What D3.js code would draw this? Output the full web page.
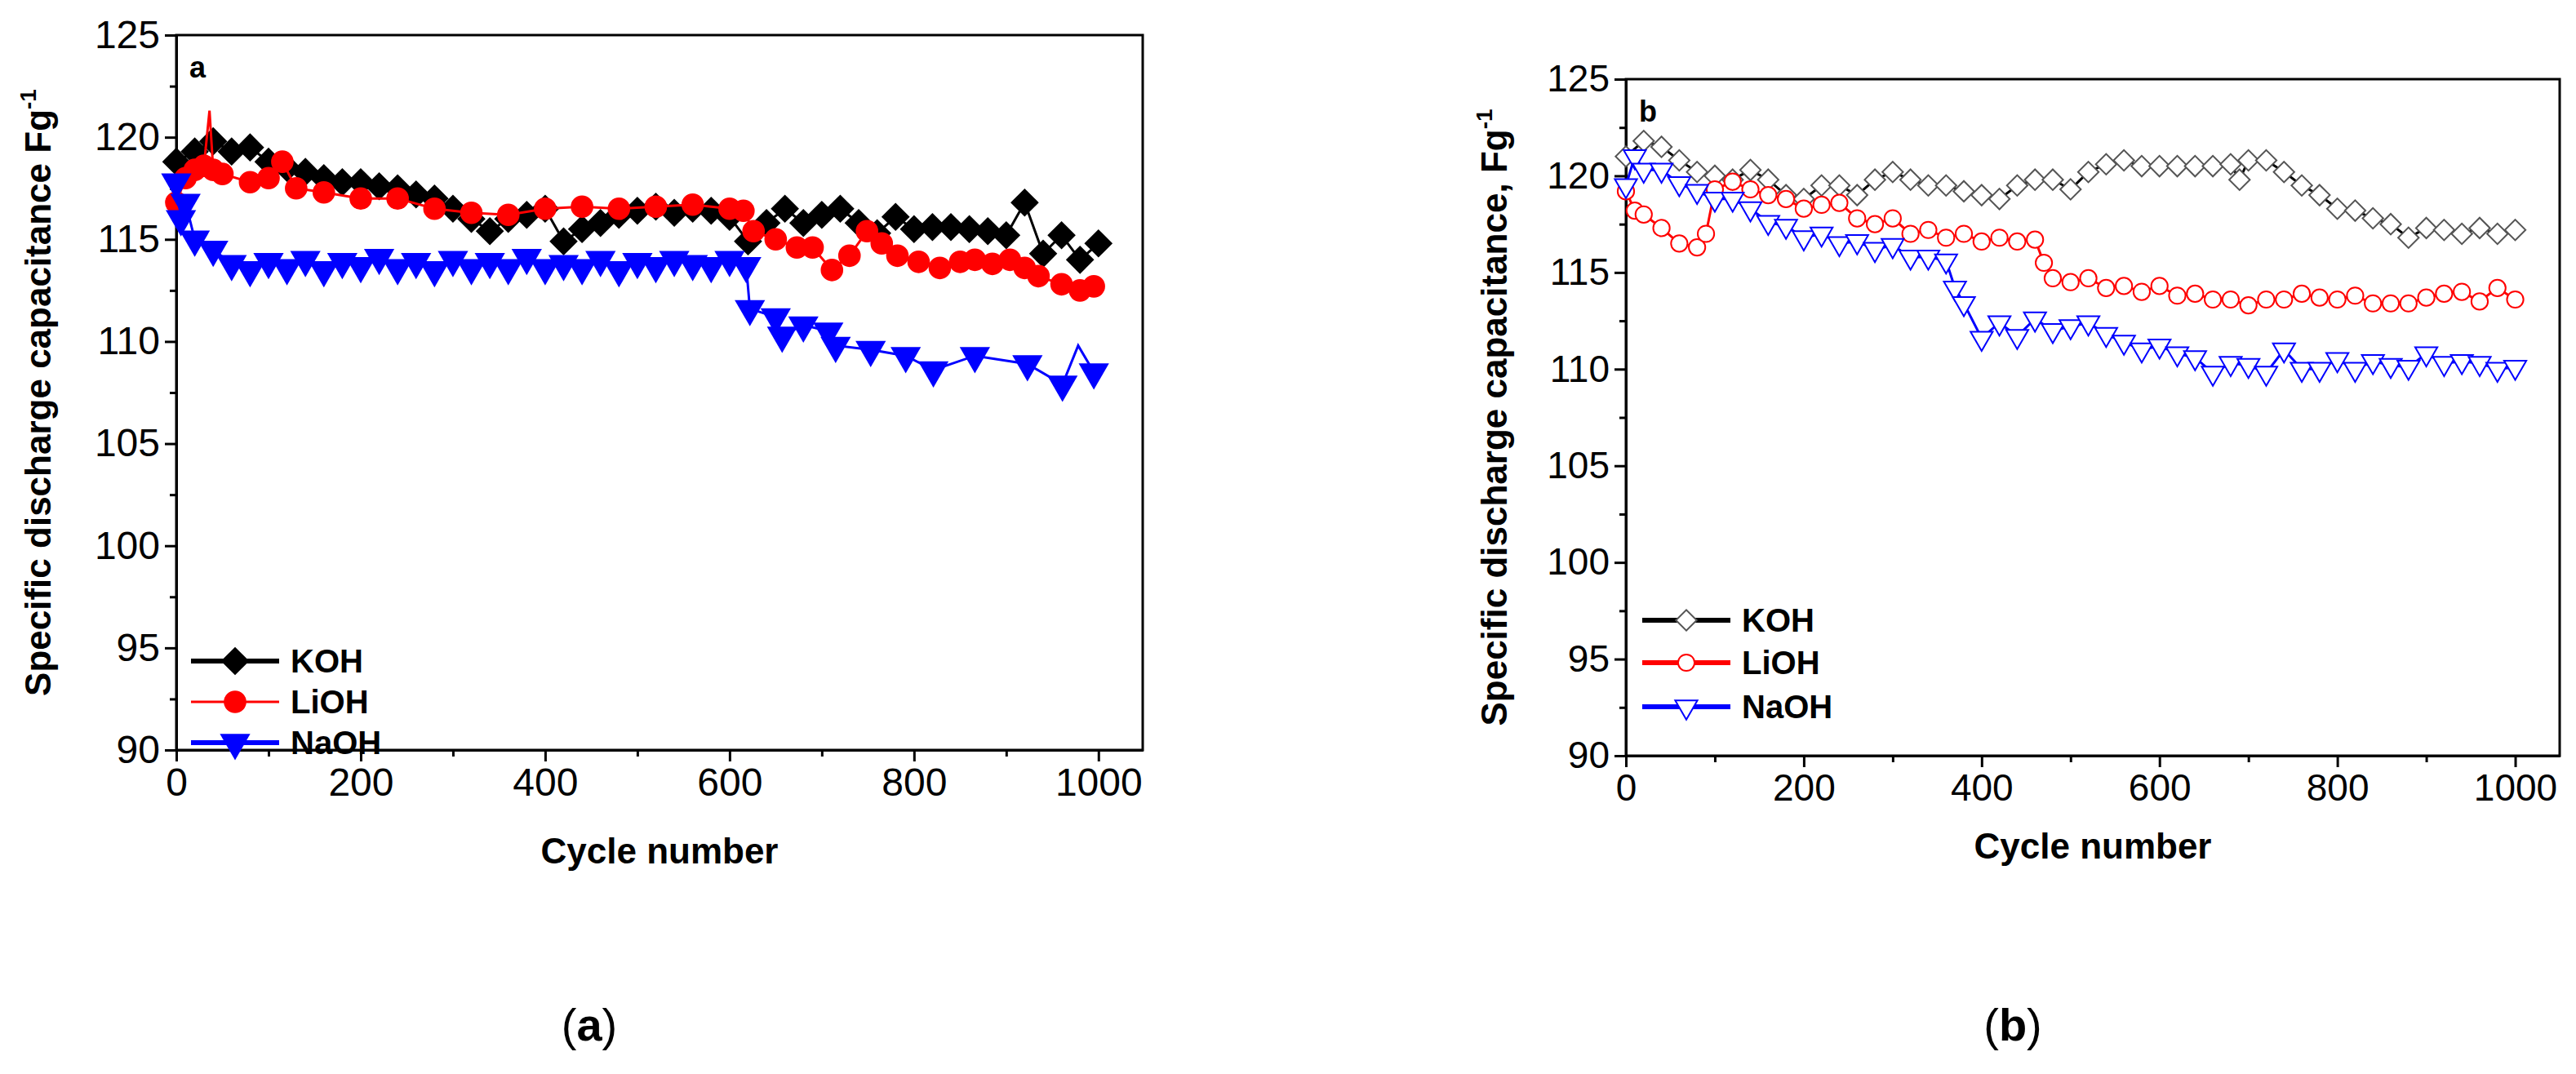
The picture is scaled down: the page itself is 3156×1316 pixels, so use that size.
<!DOCTYPE html>
<html>
<head>
<meta charset="utf-8">
<script src="https://cdn.jsdelivr.net/npm/d3@7"></script>
<style>
  body { margin: 0; background: #fff; }
  text { font-family: "Liberation Sans", Arial, sans-serif; }
</style>
</head>
<body>
<svg id="chart" width="3156" height="1316"></svg>
<script>
// ---- panel a data ----
const aKohCycles = [0,20,40,60,80,100,120,140,160,180,200,220,240,260,280,300,320,340,360,380,400,420,440,460,480,500,520,540,560,580,600,620,640,660,680,700,720,740,760,780,800,820,840,860,880,900,920,940,960,980,1000];
const aKohValues = [118.8,119.3,119.8,119.3,119.5,118.8,118.5,118.3,118.0,117.8,117.8,117.6,117.5,117.2,117.0,116.5,116.0,115.4,116.0,116.2,116.5,114.9,115.5,115.8,116.2,116.4,116.6,116.3,116.5,116.4,116.1,114.9,115.8,116.5,115.8,116.2,116.5,115.8,115.3,116.1,115.5,115.6,115.6,115.5,115.4,115.2,116.8,114.3,115.2,114.0,114.8];
const aLiohCycles = [0,10,20,30,36,40,50,80,100,115,130,160,200,240,280,320,360,400,440,480,520,560,600,615,626,650,673,690,711,730,749,765,782,805,828,850,866,885,904,920,935,960,980,995];
const aLiohValues = [116.8,118.0,118.4,118.6,121.3,118.4,118.2,117.8,118.0,118.8,117.5,117.3,117.0,117.0,116.5,116.3,116.2,116.5,116.6,116.5,116.6,116.7,116.5,116.4,115.4,115.0,114.6,114.6,113.5,114.2,115.4,114.8,114.2,113.9,113.6,113.9,114.0,113.8,114.0,113.6,113.2,112.8,112.5,112.7];
const aNaohCycles = [0,5,10,20,40,60,80,100,120,140,160,180,200,220,240,260,280,300,320,340,360,380,400,420,440,460,480,500,520,540,560,580,600,618,622,650,657,680,707,715,753,791,821,866,923,961,978,995];
const aNaohValues = [117.8,116.0,116.8,115.0,114.5,113.8,113.5,113.9,113.6,114.0,113.5,113.9,113.7,114.1,113.6,113.9,113.5,114.0,113.6,113.9,113.6,114.1,113.6,113.8,113.6,114.0,113.5,113.9,113.7,114.0,113.8,113.7,114.0,113.7,111.6,111.2,110.3,110.8,110.5,109.8,109.6,109.3,108.6,109.3,108.9,107.9,109.8,108.5];
// cycles drawn as line spikes only, without a marker
const aLiohSpikes = [36];
const aNaohSpikes = [978];

// ---- panel b data ----
const bKohCycles = [0,20,40,60,80,100,120,140,160,180,200,220,240,260,280,300,320,340,360,380,400,420,440,460,480,500,520,540,560,580,600,620,640,660,680,690,700,720,740,760,780,800,820,840,860,880,900,920,940,960,980,1000];
const bKohValues = [121.0,121.8,121.5,120.8,120.2,120.0,119.8,120.3,119.8,119.0,118.8,119.5,119.5,119.0,119.8,120.2,119.8,119.5,119.5,119.2,119.0,118.8,119.5,119.8,119.8,119.3,120.2,120.6,120.8,120.5,120.5,120.5,120.5,120.5,120.6,119.8,120.8,120.8,120.2,119.5,119.0,118.3,118.2,117.8,117.5,116.8,117.3,117.2,117.0,117.3,117.0,117.2];
const bLiohCycles = [0,10,20,40,60,80,90,100,120,140,160,180,200,220,240,260,280,300,320,340,360,380,400,420,440,460,470,480,500,520,540,560,580,600,620,640,660,680,700,720,740,760,780,800,820,840,860,880,900,920,940,960,980,1000];
const bLiohValues = [119.2,118.2,118.0,117.3,116.5,116.3,117.0,119.3,119.7,119.3,119.0,118.8,118.3,118.5,118.6,117.8,117.5,117.8,117.0,117.2,116.8,117.0,116.6,116.8,116.6,116.7,115.5,114.7,114.5,114.7,114.2,114.3,114.0,114.3,113.8,113.9,113.6,113.6,113.3,113.6,113.6,113.9,113.7,113.6,113.8,113.4,113.4,113.4,113.7,113.9,114.0,113.5,114.2,113.6];
const bNaohCycles = [0,10,20,40,60,80,100,120,140,160,180,200,220,240,260,280,300,320,340,360,370,380,400,420,440,460,480,500,520,540,560,580,600,620,640,660,680,700,720,740,760,780,800,820,840,860,880,900,920,940,960,980,1000];
const bNaohValues = [119.5,121.0,120.3,120.3,119.6,119.2,118.8,118.8,118.3,117.6,117.4,116.8,117.0,116.5,116.6,116.2,116.4,115.8,115.8,115.6,114.2,113.4,111.6,112.4,111.7,112.6,112.0,112.2,112.4,111.8,111.4,111.0,111.2,110.8,110.6,109.8,110.3,110.2,109.8,111.0,110.0,110.0,110.5,110.0,110.4,110.2,110.1,110.8,110.3,110.4,110.3,110.0,110.1];

const seriesNames = ["KOH", "LiOH", "NaOH"];
const seriesColors = ["#000000", "#ff0000", "#0000ff"];
const yTicks = [90, 95, 100, 105, 110, 115, 120, 125];
const xTicks = [0, 200, 400, 600, 800, 1000];

const svg = d3.select("#chart");

function symTransform(type, px, py) {
  let t = `translate(${px},${py})`;
  if (type === d3.symbolTriangle) t += " rotate(180)";
  if (type === d3.symbolSquare) t += " rotate(45)";
  return t;
}

function drawPanel(p) {
  const x = d3.scaleLinear().domain([0, p.xMax]).range([p.left, p.right]);
  const y = d3.scaleLinear().domain([90, 125]).range([p.bottom, p.top]);
  const g = svg.append("g");

  g.append("rect").attr("x", p.left).attr("y", p.top)
    .attr("width", p.right - p.left).attr("height", p.bottom - p.top)
    .attr("fill", "none").attr("stroke", "#000").attr("stroke-width", 3);

  g.append("g").attr("transform", `translate(${p.left},0)`)
    .call(d3.axisLeft(y).tickValues(yTicks).tickSize(14).tickPadding(6).tickSizeOuter(0));
  g.append("g").attr("transform", `translate(${p.left},0)`)
    .call(d3.axisLeft(y).tickValues(d3.range(92.5, 125, 5)).tickSize(8).tickFormat("").tickSizeOuter(0));
  g.append("g").attr("transform", `translate(0,${p.bottom})`)
    .call(d3.axisBottom(x).tickValues(xTicks).tickFormat(d3.format("d")).tickSize(14).tickPadding(8).tickSizeOuter(0));
  g.append("g").attr("transform", `translate(0,${p.bottom})`)
    .call(d3.axisBottom(x).tickValues(d3.range(100, 1000, 200)).tickSize(8).tickFormat("").tickSizeOuter(0));
  g.selectAll(".domain").attr("stroke-width", 3);
  g.selectAll(".tick line").attr("stroke-width", 3);
  g.selectAll(".tick text").attr("font-size", p.tickFont).attr("font-family", "Liberation Sans, Arial, sans-serif").attr("fill", "#000");

  const yt = g.append("text")
    .attr("transform", `translate(${p.yTitleX},${(p.top + p.bottom) / 2}) rotate(-90)`)
    .attr("text-anchor", "middle").attr("font-weight", "bold").attr("font-size", 44);
  yt.append("tspan").text(p.yTitle);
  yt.append("tspan").attr("dy", -18).attr("font-size", 28).text("-1");
  g.append("text").attr("x", (p.left + p.right) / 2).attr("y", p.xTitleY)
    .attr("text-anchor", "middle").attr("font-weight", "bold").attr("font-size", 44).text("Cycle number");
  g.append("text").attr("x", p.left + 16).attr("y", p.top + 52)
    .attr("font-weight", "bold").attr("font-size", 36).text(p.tag);

  const line = d3.line().x(d => x(d[0])).y(d => y(d[1]));
  p.series.forEach((s, i) => {
    const pts = s.cycles.map((c, k) => [c, s.values[k]]);
    const spikes = s.spikes || [];
    const fill = p.hollow ? "#fff" : seriesColors[i];
    const stroke = p.hollow ? (i === 0 ? "#555" : seriesColors[i]) : "none";
    g.append("path").datum(pts).attr("d", line)
      .attr("fill", "none").attr("stroke", seriesColors[i]).attr("stroke-width", 3);
    const sym = d3.symbol().type(p.symbols[i]).size(p.symSize);
    g.selectAll(null).data(pts.filter(d => !spikes.includes(d[0]))).join("path")
      .attr("d", sym)
      .attr("transform", d => symTransform(p.symbols[i], x(d[0]), y(d[1])))
      .attr("fill", fill).attr("stroke", stroke).attr("stroke-width", 2);

    const ly = p.legendY[i];
    g.append("line").attr("x1", p.legendX).attr("x2", p.legendX + 108).attr("y1", ly).attr("y2", ly)
      .attr("stroke", seriesColors[i]).attr("stroke-width", i === 1 && !p.hollow ? 3 : 6);
    g.append("path").attr("d", sym)
      .attr("transform", symTransform(p.symbols[i], p.legendX + 54, ly))
      .attr("fill", fill).attr("stroke", stroke).attr("stroke-width", 2);
    g.append("text").attr("x", p.legendX + 122).attr("y", ly + 14)
      .attr("font-weight", "bold").attr("font-size", 40).text(seriesNames[i]);
  });
}

drawPanel({
  left: 216, right: 1400, top: 43, bottom: 919, xMax: 1048,
  tickFont: 48, yTitleX: 62, xTitleY: 1058, tag: "a",
  yTitle: "Specific discharge capacitance Fg",
  hollow: false, symSize: 600,
  symbols: [d3.symbolSquare, d3.symbolCircle, d3.symbolTriangle],
  legendX: 234, legendY: [810, 860, 910],
  series: [
    { cycles: aKohCycles, values: aKohValues },
    { cycles: aLiohCycles, values: aLiohValues, spikes: aLiohSpikes },
    { cycles: aNaohCycles, values: aNaohValues, spikes: aNaohSpikes }
  ]
});

drawPanel({
  left: 1992, right: 3136, top: 97, bottom: 926, xMax: 1050,
  tickFont: 46, yTitleX: 1846, xTitleY: 1052, tag: "b",
  yTitle: "Specific discharge capacitance, Fg",
  hollow: true, symSize: 320,
  symbols: [d3.symbolSquare, d3.symbolCircle, d3.symbolTriangle],
  legendX: 2012, legendY: [760, 812, 866],
  series: [
    { cycles: bKohCycles, values: bKohValues },
    { cycles: bLiohCycles, values: bLiohValues },
    { cycles: bNaohCycles, values: bNaohValues }
  ]
});

svg.append("text").attr("x", 722).attr("y", 1275).attr("text-anchor", "middle")
  .attr("font-family", "Liberation Serif, serif").attr("font-size", 56)
  .html('(<tspan font-weight="bold">a</tspan>)');
svg.append("text").attr("x", 2466).attr("y", 1275).attr("text-anchor", "middle")
  .attr("font-family", "Liberation Serif, serif").attr("font-size", 56)
  .html('(<tspan font-weight="bold">b</tspan>)');
</script>
</body>
</html>
